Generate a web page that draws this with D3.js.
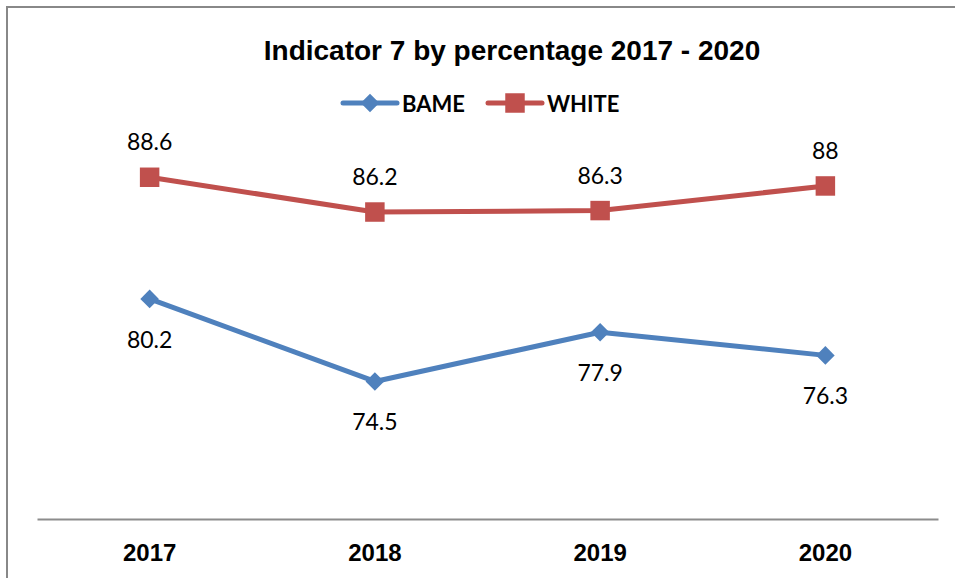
<!DOCTYPE html>
<html>
<head>
<meta charset="utf-8">
<script src="https://cdn.jsdelivr.net/npm/d3@7/dist/d3.min.js"></script>
<style>
  html, body { margin: 0; padding: 0; background: #fff; }
  svg { display: block; }
</style>
</head>
<body>
<svg id="chart" width="955" height="578"></svg>
<script>
// Indicator 7 results by year
const years = ["2017", "2018", "2019", "2020"];
const bame = [80.2, 74.5, 77.9, 76.3];
const white = [88.6, 86.2, 86.3, 88];
const seriesNames = ["BAME", "WHITE"];
const seriesColors = ["#4F81BD", "#C0504D"];

const svg = d3.select("#chart");
const W = 955, H = 578;

// outer chart frame (continues past the right and bottom edges)
svg.append("rect")
  .attr("x", 7).attr("y", 7)
  .attr("width", W + 20).attr("height", H + 20)
  .attr("fill", "#fff")
  .attr("stroke", "#888")
  .attr("stroke-width", 2);

const plot = { left: 37, right: 938, top: 157, bottom: 519 };

const x = d3.scaleBand().domain(years).range([plot.left, plot.right]);
const y = d3.scaleLinear().domain([65, 90]).range([plot.bottom, plot.top]);
const cx = d => x(d) + x.bandwidth() / 2;

// title
svg.append("text")
  .attr("x", 512).attr("y", 60)
  .attr("text-anchor", "middle")
  .attr("font-family", "Liberation Sans, Arial, sans-serif")
  .attr("font-weight", "bold")
  .attr("font-size", 28)
  .attr("fill", "#000")
  .text("Indicator 7 by percentage 2017 - 2020");

// category axis
const xAxis = svg.append("g")
  .attr("transform", `translate(0,${plot.bottom})`)
  .call(d3.axisBottom(x).tickSize(0).tickPadding(0));
xAxis.select(".domain").attr("stroke", "#8c8c8c").attr("stroke-width", 2);
xAxis.selectAll("text")
  .attr("dy", 0)
  .attr("y", 42)
  .attr("font-family", "Liberation Sans, Arial, sans-serif")
  .attr("font-weight", "bold")
  .attr("font-size", 24)
  .attr("fill", "#000");

const diamond = d3.symbol().type(d3.symbolDiamond2).size(220);
const square = d3.symbol().type(d3.symbolSquare).size(380);

function drawSeries(values, color, sym, labelDy) {
  const line = d3.line().x((d, i) => cx(years[i])).y(d => y(d));
  svg.append("path")
    .datum(values)
    .attr("d", line)
    .attr("fill", "none")
    .attr("stroke", color)
    .attr("stroke-width", 5)
    .attr("stroke-linejoin", "round");
  svg.selectAll(null)
    .data(values)
    .enter().append("path")
    .attr("d", sym)
    .attr("transform", (d, i) => `translate(${cx(years[i])},${y(d)})`)
    .attr("fill", color);
  svg.selectAll(null)
    .data(values)
    .enter().append("text")
    .attr("x", (d, i) => cx(years[i]))
    .attr("y", d => y(d) + labelDy)
    .attr("text-anchor", "middle")
    .attr("font-family", "Lato, Open Sans, sans-serif")
    .attr("font-size", 23)
    .attr("fill", "#000")
    .text(d => d);
}

drawSeries(white, seriesColors[1], square, -27);
drawSeries(bame, seriesColors[0], diamond, 49);

// legend
const legendItems = [
  { name: seriesNames[0], color: seriesColors[0], sym: diamond, x0: 343 },
  { name: seriesNames[1], color: seriesColors[1], sym: square, x0: 488 }
];
const lg = svg.append("g");
legendItems.forEach(it => {
  const g = lg.append("g").attr("transform", `translate(${it.x0},103)`);
  g.append("line").attr("x1", 0).attr("x2", 54).attr("y1", 0).attr("y2", 0)
    .attr("stroke", it.color).attr("stroke-width", 5).attr("stroke-linecap", "round");
  g.append("path").attr("d", it.sym).attr("transform", "translate(27,0)").attr("fill", it.color);
  g.append("text").attr("x", 59).attr("y", 8.5)
    .attr("font-family", "Lato, Open Sans, sans-serif")
    .attr("font-weight", "bold")
    .attr("font-size", 22)
    .attr("fill", "#000")
    .text(it.name);
});
</script>
</body>
</html>
